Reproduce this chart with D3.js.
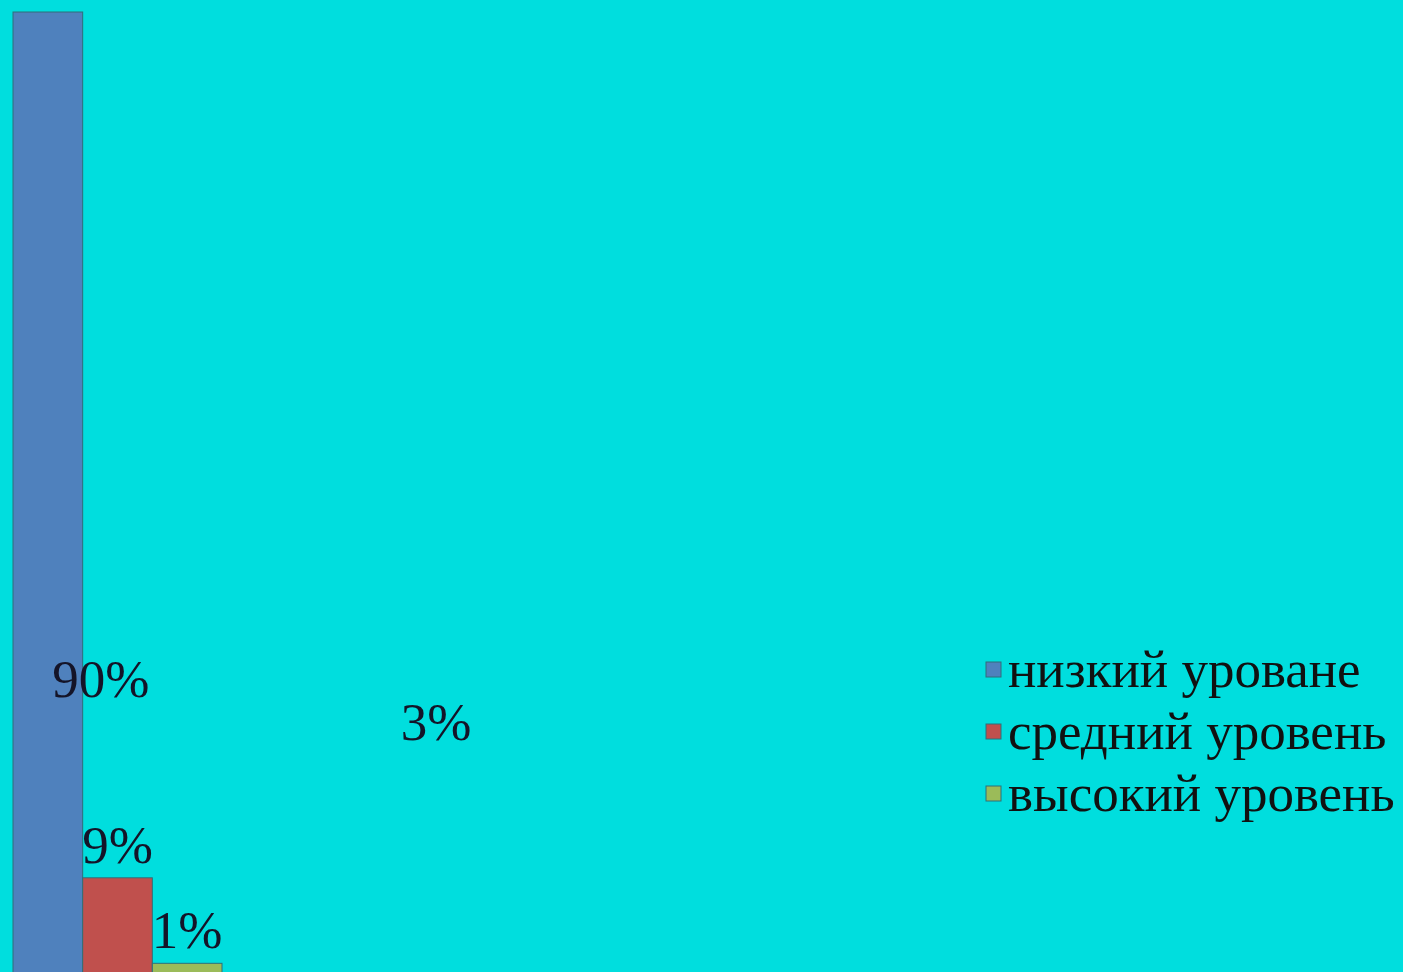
<!DOCTYPE html>
<html><head><meta charset="utf-8">
<script src="https://cdn.jsdelivr.net/npm/d3@7"></script>
<style>html,body{margin:0;padding:0;background:#00DEDE;overflow:hidden}</style>
</head><body>
<script>
const categories = ["низкий уроване", "средний уровень", "высокий уровень"];
const values = [90, 9, 1];
const labels = ["90%", "9%", "1%"];
const extraLabel = "3%";
const colors = ["#4F81BD", "#C0504D", "#9BBB59"];

const W = 1403, H = 972;
const svg = d3.select("body").append("svg").attr("width", W).attr("height", H);
svg.append("rect").attr("width", W).attr("height", H).attr("fill", "#00DEDE");

const x = d3.scaleBand().domain(categories).range([13, 222]).paddingInner(0).paddingOuter(0);
const y = d3.scaleLinear().domain([0, 90]).range([974, 12]);

svg.selectAll("rect.bar").data(values).join("rect")
  .attr("class", "bar")
  .attr("x", (d, i) => x(categories[i]))
  .attr("y", d => y(d))
  .attr("width", x.bandwidth())
  .attr("height", d => y(0) - y(d))
  .attr("fill", (d, i) => colors[i])
  .attr("stroke", "#2f6f7a").attr("stroke-width", 1);

const font = "'Liberation Serif', 'Times New Roman', serif";
const FS = 53;
const lblOffsets = [53, 0, 0];
svg.selectAll("text.lbl").data(values).join("text")
  .attr("class", "lbl")
  .attr("x", (d, i) => x(categories[i]) + x.bandwidth() / 2 + lblOffsets[i])
  .attr("y", (d, i) => i === 0 ? y(d) + 685 : y(d) - 15)
  .attr("text-anchor", "middle")
  .attr("font-family", font).attr("font-size", FS).attr("fill", "#141428")
  .text((d, i) => labels[i]);

svg.append("text").attr("x", 436).attr("y", 740).attr("text-anchor", "middle")
  .attr("font-family", font).attr("font-size", FS).attr("fill", "#141428")
  .text(extraLabel);

const lg = svg.append("g").attr("transform", "translate(985,0)");
categories.forEach((c, i) => {
  const yy = 687 + i * 62;
  lg.append("rect").attr("x", 1).attr("y", yy - 25).attr("width", 15).attr("height", 15)
    .attr("fill", colors[i]).attr("stroke", "#2f6f7a").attr("stroke-width", 1);
  lg.append("text").attr("x", 23).attr("y", yy)
    .attr("font-family", font).attr("font-size", FS).attr("fill", "#111")
    .text(c);
});
</script>
</body></html>
